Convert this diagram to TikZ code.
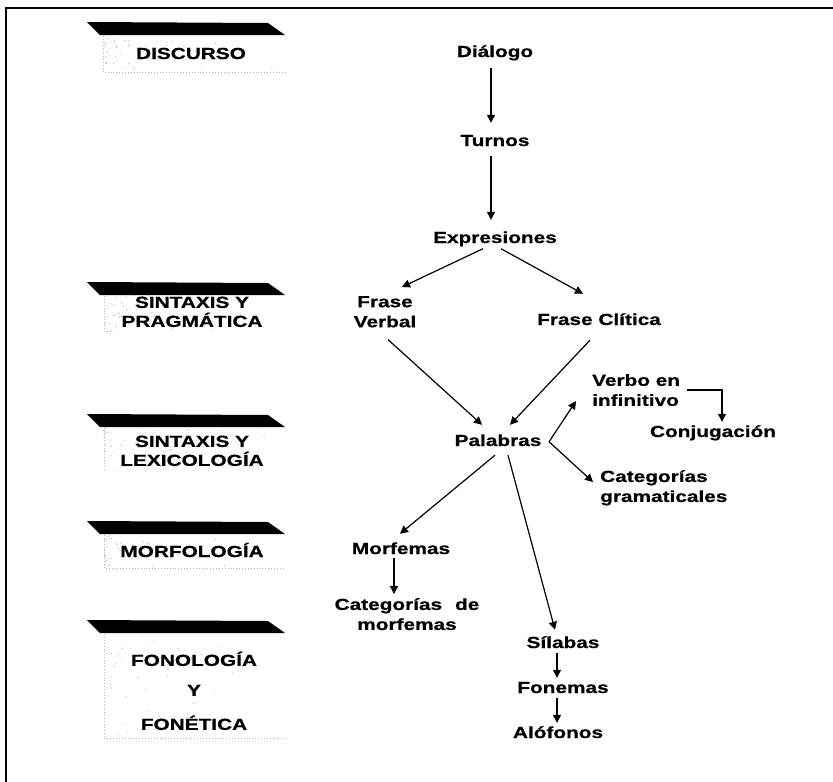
\documentclass[tikz,border=0pt]{standalone}
\usepackage{fontspec}
\setmainfont{Liberation Sans}[FakeStretch=1.3, BoldFeatures={FakeBold=0.7}]
\usetikzlibrary{arrows.meta}

\begin{document}
\begin{tikzpicture}[x=1pt,y=-1pt,
  txt/.style={font=\fontsize{16}{20}\selectfont\bfseries, inner sep=0pt,
              text height=12pt, text depth=3.5pt, anchor=base},
  mtxt/.style={font=\fontsize{16}{20}\selectfont\bfseries, inner sep=0pt},
  lvl/.style={font=\fontsize{16}{19}\selectfont\bfseries, inner sep=0pt, align=center},
  arr/.style={line width=1.2pt, -{Triangle[length=8pt,width=8pt]}},
  banner/.style={fill=black},
  boxedge/.style={gray!55, dotted, line width=0.9pt},
  speck/.style={fill=gray!70}
]
\useasboundingbox (0,0) rectangle (833,782);

% page frame (top and left rules)
\draw[line width=1.4pt] (6,782) -- (6,8) -- (833,8);

% level banners: black wedge bars
\foreach \t in {22,282,414,521,620}{
  \fill[banner] (87,\t) -- (268,\t+1) -- (285,\t+13) -- (100,\t+13) -- cycle;
}

% light dotted edges of the level boxes
\draw[boxedge] (103,36) -- (103,72) -- (285,72);
\draw[boxedge] (104,296) -- (104,331) -- (112,331);
\draw[boxedge] (104,428) -- (104,468);
\draw[boxedge] (104,535) -- (104,568) -- (285,568);
\draw[boxedge] (104,634) -- (104,738) -- (285,738);

% specks inside the level boxes
\pgfmathsetseed{11}
\foreach \t/\h in {36/34,295/36,428/42,535/32,634/102}{
  \foreach \i in {1,...,45}{
    \pgfmathsetmacro\sx{104+175*rnd*rnd}
    \pgfmathsetmacro\sy{\t+\h*rnd}
    \fill[speck] (\sx,\sy) circle (0.55pt);
  }
}

% level labels
\node[txt] (lDis) at (191,59) {DISCURSO};
\node[lvl, anchor=north] (lSinP) at (192,296.5) {SINTAXIS Y\\PRAGMÁTICA};
\node[lvl, anchor=north] (lSinL) at (192,435.5) {SINTAXIS Y\\LEXICOLOGÍA};
\node[txt] (lMor) at (192,557) {MORFOLOGÍA};
\node[lvl, anchor=north] (lFon) at (194,651.5) {FONOLOGÍA\\[11pt]Y\\[15pt]FONÉTICA};

% hierarchy nodes
\node[txt] (dia) at (495,57) {Diálogo};
\node[txt] (tur) at (495,146) {Turnos};
\node[txt] (exp) at (495,243) {Expresiones};
\node[mtxt, align=center, anchor=north] (fv) at (385,296) {Frase\\Verbal};
\node[txt] (fc) at (599,325) {Frase Clítica};
\node[txt] (pal) at (498,446) {Palabras};
\node[mtxt, align=left, anchor=north west] (vi) at (592,374) {Verbo en\\infinitivo};
\node[txt] (conj) at (713,437) {Conjugación};
\node[mtxt, align=left, anchor=north west] (cg) at (600,470) {Categorías\\gramaticales};
\node[txt] (mor) at (401,554) {Morfemas};
\node[mtxt, align=center, anchor=north] (cdm) at (407,598) {Categorías\hspace{0.45em} de\\morfemas};
\node[txt] (sil) at (563,648) {Sílabas};
\node[txt] (fon) at (563,693) {Fonemas};
\node[txt] (alo) at (558,738) {Alófonos};

% connectors
\draw[arr] ([xshift=-4pt,yshift=-7.5pt]dia.south) -- ([xshift=-4pt,yshift=11pt]tur.north);
\draw[arr] ([xshift=-4pt,yshift=-6.5pt]tur.south) -- ([xshift=-4pt,yshift=11pt]exp.north);
\draw[arr] ([xshift=-12pt,yshift=-2pt]exp.south) -- ([xshift=17pt,yshift=9pt]fv.north);
\draw[arr] ([xshift=6pt,yshift=-2pt]exp.south) -- ([xshift=-16pt,yshift=19pt]fc.north);
\draw[arr] ([xshift=3pt,yshift=-12pt]fv.south) -- ([xshift=-16pt,yshift=9pt]pal.north);
\draw[arr] ([xshift=-9pt,yshift=-11.5pt]fc.south) -- ([xshift=12pt,yshift=9pt]pal.north);
\draw[arr] ([xshift=7.5pt]pal.east) -- ([xshift=-16pt,yshift=-11pt]vi.west);
\draw[arr] ([xshift=7.5pt]pal.east) -- ([xshift=-7pt,yshift=-12pt]cg.north west);
\draw[arr] ([xshift=7pt]vi.east) -| ([xshift=9pt,yshift=3pt]conj.north);
\draw[arr] ([xshift=-3pt,yshift=-5.5pt]pal.south) -- ([xshift=-1pt,yshift=8pt]mor.north);
\draw[arr] ([xshift=10pt,yshift=-5.5pt]pal.south) -- ([xshift=-8pt,yshift=6pt]sil.north);
\draw[arr] ([xshift=-7pt]mor.south) -- ([xshift=-13pt,yshift=4pt]cdm.north);
\draw[arr] ([xshift=-6pt,yshift=-1.5pt]sil.south) -- ([xshift=-6pt,yshift=3pt]fon.north);
\draw[arr] ([xshift=-6pt,yshift=-1.5pt]fon.south) -- ([xshift=-1pt,yshift=3pt]alo.north);
\end{tikzpicture}
\end{document}
